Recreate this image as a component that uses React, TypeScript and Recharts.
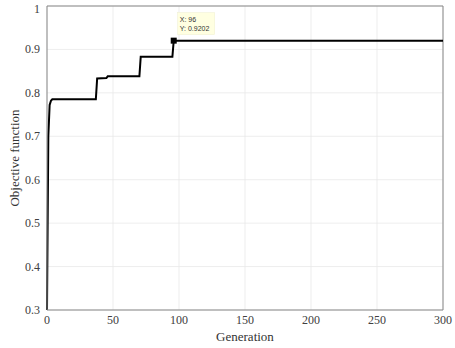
import React from "react";
import {
  LineChart,
  Line,
  XAxis,
  YAxis,
  CartesianGrid,
  ReferenceLine,
  ReferenceDot,
} from "recharts";

// generation where the best value changes, and that value
const generations = [0, 1, 2, 3, 4, 37, 38, 45, 46, 70, 71, 95, 96, 300];
const objective = [
  0.3, 0.7, 0.772, 0.782, 0.785, 0.785, 0.833, 0.834, 0.838, 0.838, 0.883,
  0.883, 0.9202, 0.9202,
];
const xTicks = [0, 50, 100, 150, 200, 250, 300];
const yTicks = [0.3, 0.4, 0.5, 0.6, 0.7, 0.8, 0.9, 1];
const tipX = 96;
const tipY = 0.9202;

const data = generations.map((g, i) => ({ gen: g, value: objective[i] }));

const serif = "'Liberation Serif', 'DejaVu Serif', serif";

const XTick = (props: any) => {
  const { x, y, payload } = props;
  return (
    <text x={x} y={y + 8} textAnchor="middle" fontSize={12} fontFamily={serif} fill="#404040">
      {payload.value}
    </text>
  );
};

const YTick = (props: any) => {
  const { x, y, payload } = props;
  return (
    <text x={x} y={y + 4} textAnchor="end" fontSize={12} fontFamily={serif} fill="#404040">
      {payload.value}
    </text>
  );
};

// square marker plus the data-tip box
const DataTip = (props: any) => {
  const { cx, cy } = props;
  return (
    <g>
      <rect x={cx - 3} y={cy - 3} width={6} height={6} fill="#000" />
      <rect
        x={cx + 4}
        y={cy - 28}
        width={37}
        height={22}
        fill="#ffffe1"
        stroke="#f0f0d0"
        strokeWidth={0.5}
      />
      <text x={cx + 6} y={cy - 19} fontSize={7} fontFamily="Arial, sans-serif" fill="#333">
        X: {tipX}
      </text>
      <text x={cx + 6} y={cy - 10} fontSize={7} fontFamily="Arial, sans-serif" fill="#333">
        Y: {tipY}
      </text>
    </g>
  );
};

const App = () => (
  <div style={{ position: "absolute", left: 0, top: 0, background: "#fff" }}>
    <LineChart
      width={455}
      height={348}
      data={data}
      margin={{ top: 6, right: 12, bottom: 8, left: 0 }}
    >
      <CartesianGrid stroke="#e8e8e8" strokeWidth={0.8} />
      <XAxis
        dataKey="gen"
        type="number"
        domain={[0, 300]}
        ticks={xTicks}
        height={30}
        stroke="#888"
        tickLine={false}
        tick={<XTick />}
        tickMargin={0}
        label={{
          value: "Generation",
          position: "insideBottom",
          offset: -1,
          fill: "#333",
          fontSize: 13,
          fontFamily: serif,
        }}
      />
      <YAxis
        type="number"
        domain={[0.3, 1]}
        ticks={yTicks}
        width={47}
        stroke="#888"
        tickLine={false}
        tickMargin={1}
        tick={<YTick />}
        label={{
          value: "Objective function",
          angle: -90,
          position: "insideLeft",
          offset: 14,
          fill: "#333",
          fontSize: 13,
          fontFamily: serif,
          style: { textAnchor: "middle" },
        }}
      />
      <ReferenceLine y={1} stroke="#888" />
      <ReferenceLine x={300} stroke="#888" />
      <Line
        type="linear"
        dataKey="value"
        stroke="#000"
        strokeWidth={2}
        dot={false}
        isAnimationActive={false}
      />
      <ReferenceDot x={tipX} y={tipY} r={3} shape={DataTip} />
    </LineChart>
  </div>
);

export default App;
